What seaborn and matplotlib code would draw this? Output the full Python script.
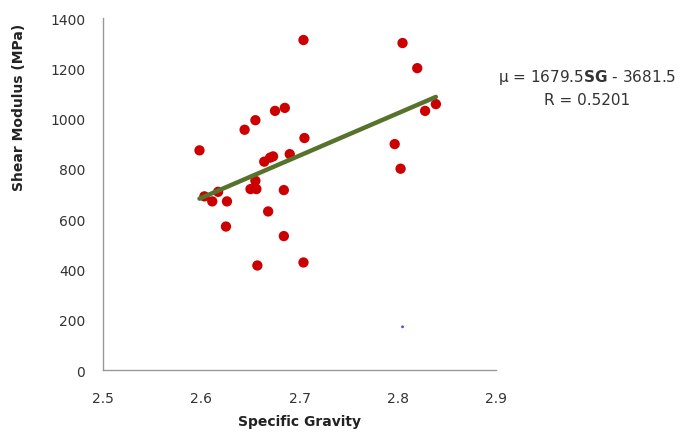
import numpy as np
import pandas as pd
import matplotlib
matplotlib.use("Agg")
import matplotlib.pyplot as plt
import seaborn as sns

# Data
specific_gravity = [2.704, 2.675, 2.685, 2.655, 2.644, 2.598, 2.705, 2.664, 2.670,
                    2.673, 2.690, 2.655, 2.650, 2.656, 2.684, 2.603, 2.617, 2.611,
                    2.626, 2.668, 2.625, 2.684, 2.657, 2.704, 2.805, 2.820, 2.839,
                    2.828, 2.797, 2.803]
shear_modulus = [1313, 1031, 1043, 994, 956, 874, 923, 829, 845,
                 850, 859, 753, 720, 720, 716, 691, 709, 671,
                 671, 631, 571, 533, 416, 428, 1301, 1201, 1058,
                 1031, 899, 801]
outlier_sg = [2.805]
outlier_mu = [172]
slope = 1679.5
intercept = -3681.5
r_value = 0.5201

x_ticks = [2.5, 2.6, 2.7, 2.8, 2.9]
y_ticks = [0, 200, 400, 600, 800, 1000, 1200, 1400]

sns.set_style("white")
plt.rcParams['font.family'] = ['DejaVu Sans']
plt.rcParams['mathtext.fontset'] = 'dejavusans'

df = pd.DataFrame({"sg": specific_gravity, "mu": shear_modulus})
fit_x = np.array([min(specific_gravity), max(specific_gravity)])
fit = pd.DataFrame({"sg": fit_x, "mu": slope * fit_x + intercept})
out = pd.DataFrame({"sg": outlier_sg, "mu": outlier_mu})

fig = plt.figure(figsize=(6.8, 4.35), dpi=100)
ax = fig.add_axes([0.152, 0.147, 0.577, 0.809])

sns.scatterplot(data=df, x="sg", y="mu", ax=ax, color="#CC0000", s=55,
                edgecolor="none", zorder=2)
sns.lineplot(data=fit, x="sg", y="mu", ax=ax, color="#56722B", linewidth=3.2,
             zorder=3)
sns.scatterplot(data=out, x="sg", y="mu", ax=ax, color="#4444FF", s=4,
                edgecolor="none", zorder=2)

ax.set_xlim(2.5, 2.9)
ax.set_ylim(0, 1400)
ax.set_xticks(x_ticks)
ax.set_xticklabels([f"{t:g}" for t in x_ticks])
ax.set_yticks(y_ticks)
ax.set_yticklabels([str(t) for t in y_ticks])
sns.despine(ax=ax)
for sp in ("left", "bottom"):
    ax.spines[sp].set_color("#999999")
    ax.spines[sp].set_linewidth(1.0)
ax.tick_params(axis="both", direction="out", length=4, width=1, color="#999999",
               labelsize=10, labelcolor="#333333")
ax.tick_params(axis="y", pad=9)
ax.tick_params(axis="x", pad=11)

ax.set_xlabel("Specific Gravity", fontsize=10, fontweight="bold", color="#222222")
ax.xaxis.set_label_coords(0.5, -0.125)
ax.set_ylabel("Shear Modulus (MPa)", fontsize=10, fontweight="bold", color="#222222")
ax.yaxis.set_label_coords(-0.198, 0.75)

fig.text(0.863, 0.822, f"\u03bc = {slope}$\\mathbf{{SG}}$ - {abs(intercept)}",
         ha="center", va="center", fontsize=11, color="#333333")
fig.text(0.863, 0.768, f"R = {r_value}", ha="center", va="center",
         fontsize=11, color="#333333")

fig.savefig("out.png", dpi=100)
